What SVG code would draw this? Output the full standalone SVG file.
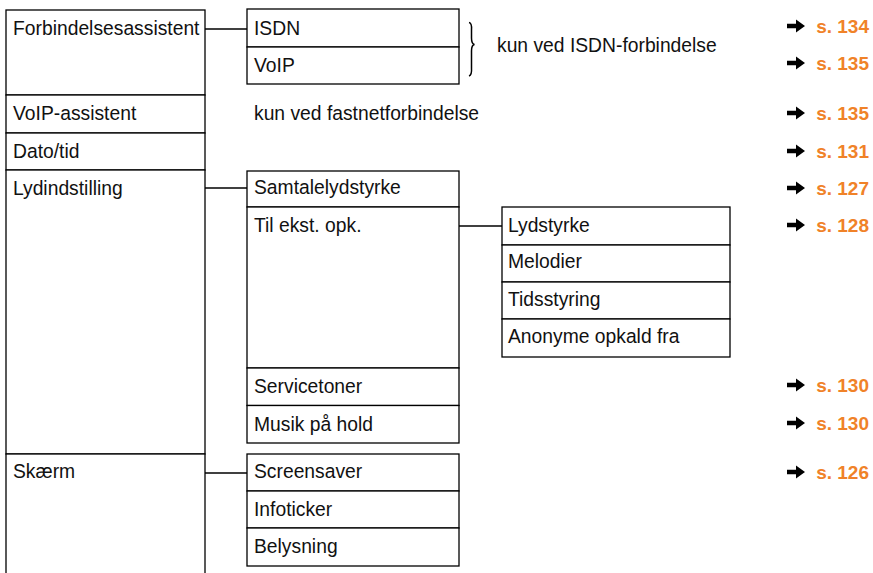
<svg xmlns="http://www.w3.org/2000/svg" xmlns:xlink="http://www.w3.org/1999/xlink" width="873" height="573" viewBox="0 0 873 573">
<style>
  .box { fill: #ffffff; stroke: #000000; stroke-width: 1.3; }
  .t { font-family: "Liberation Sans", Arial, sans-serif; font-size: 19.3px; fill: #111111; }
  .ref { font-family: "Liberation Sans", Arial, sans-serif; font-size: 19px; font-weight: bold; fill: #F08228; text-anchor: end; }
  .conn { stroke: #000000; stroke-width: 1.3; fill: none; }
</style>
<defs>
  <path id="arr" d="M0,-2.3 L9,-2.3 L9,-6.5 L18,0 L9,6.5 L9,2.3 L0,2.3 Z" fill="#000000"/>
</defs>
<rect width="873" height="573" fill="#ffffff"/>

<g id="n-forbindelsesassistent"><rect class="box" x="6" y="10" width="199" height="85"/><text class="t" x="13" y="35">Forbindelsesassistent</text></g>
<g id="n-voip-assistent"><rect class="box" x="6" y="95" width="199" height="38"/><text class="t" x="13" y="120">VoIP-assistent</text></g>
<g id="n-dato"><rect class="box" x="6" y="133" width="199" height="37"/><text class="t" x="13" y="158">Dato/tid</text></g>
<g id="n-lydindstilling"><rect class="box" x="6" y="170" width="199" height="284"/><text class="t" x="13" y="195">Lydindstilling</text></g>
<g id="n-skaerm"><rect class="box" x="6" y="454" width="199" height="130"/><text class="t" x="13" y="478">Skærm</text></g>

<g id="n-isdn"><rect class="box" x="247" y="9" width="212" height="38"/><text class="t" x="254" y="35">ISDN</text></g>
<g id="n-voip"><rect class="box" x="247" y="47" width="212" height="37"/><text class="t" x="254" y="72">VoIP</text></g>
<g id="n-samtale"><rect class="box" x="247" y="171" width="212" height="36"/><text class="t" x="254" y="194">Samtalelydstyrke</text></g>
<g id="n-tilekst"><rect class="box" x="247" y="207" width="212" height="161"/><text class="t" x="254" y="232">Til ekst. opk.</text></g>
<g id="n-servicetoner"><rect class="box" x="247" y="368" width="212" height="37.5"/><text class="t" x="254" y="393">Servicetoner</text></g>
<g id="n-musik"><rect class="box" x="247" y="405.5" width="212" height="37.5"/><text class="t" x="254" y="431">Musik på hold</text></g>
<g id="n-screensaver"><rect class="box" x="247" y="454" width="212" height="37"/><text class="t" x="254" y="478">Screensaver</text></g>
<g id="n-infoticker"><rect class="box" x="247" y="491" width="212" height="37"/><text class="t" x="254" y="516">Infoticker</text></g>
<g id="n-belysning"><rect class="box" x="247" y="528" width="212" height="38"/><text class="t" x="254" y="553">Belysning</text></g>

<g id="n-lydstyrke"><rect class="box" x="502" y="207" width="228" height="38"/><text class="t" x="508" y="232">Lydstyrke</text></g>
<g id="n-melodier"><rect class="box" x="502" y="245" width="228" height="37"/><text class="t" x="508" y="268">Melodier</text></g>
<g id="n-tidsstyring"><rect class="box" x="502" y="282" width="228" height="37"/><text class="t" x="508" y="306">Tidsstyring</text></g>
<g id="n-anonyme"><rect class="box" x="502" y="319" width="228" height="38"/><text class="t" x="508" y="343">Anonyme opkald fra</text></g>

<g id="connectors">
  <line class="conn" x1="205" y1="29" x2="247" y2="29"/>
  <line class="conn" x1="205" y1="188" x2="247" y2="188"/>
  <line class="conn" x1="459" y1="226" x2="502" y2="226"/>
  <line class="conn" x1="205" y1="473" x2="247" y2="473"/>
</g>

<g id="notes">
  <path d="M469,22.5 Q472,23 471.5,30 L471.5,38 Q471.5,44 474.5,44.5 Q471.5,45 471.5,51 L471.5,68 Q472,75 469,76" fill="none" stroke="#000" stroke-width="1.5"/>
  <text class="t" x="497" y="52">kun ved ISDN-forbindelse</text>
  <text class="t" x="254" y="120">kun ved fastnetforbindelse</text>
</g>

<g id="refs">
  <use xlink:href="#arr" x="787" y="26"/><text class="ref" x="869" y="33">s. 134</text>
  <use xlink:href="#arr" x="787" y="63"/><text class="ref" x="869" y="70">s. 135</text>
  <use xlink:href="#arr" x="787" y="113"/><text class="ref" x="869" y="120">s. 135</text>
  <use xlink:href="#arr" x="787" y="151"/><text class="ref" x="869" y="158">s. 131</text>
  <use xlink:href="#arr" x="787" y="188"/><text class="ref" x="869" y="195">s. 127</text>
  <use xlink:href="#arr" x="787" y="225"/><text class="ref" x="869" y="232">s. 128</text>
  <use xlink:href="#arr" x="787" y="385"/><text class="ref" x="869" y="392">s. 130</text>
  <use xlink:href="#arr" x="787" y="423"/><text class="ref" x="869" y="430">s. 130</text>
  <use xlink:href="#arr" x="787" y="472"/><text class="ref" x="869" y="479">s. 126</text>
</g>
</svg>
